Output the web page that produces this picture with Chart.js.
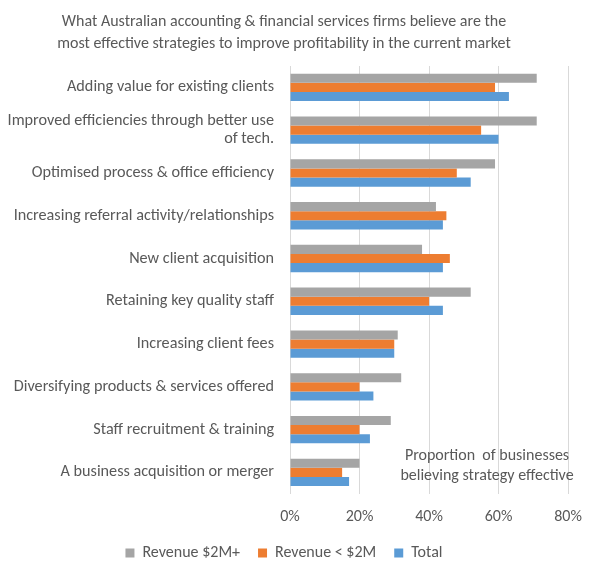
<!DOCTYPE html>
<html>
<head>
<meta charset="utf-8">
<script src="https://cdn.jsdelivr.net/npm/chart.js@4"></script>
<style>
  body { margin: 0; background: #fff; }
  #wrap { width: 597px; height: 575px; }
</style>
</head>
<body>
<div id="wrap"><canvas id="myChart"></canvas></div>
<script>
// strategies, top to bottom
var strategies = [
    'Adding value for existing clients',
    ['Improved efficiencies through better use', 'of tech.'],
    'Optimised process & office efficiency',
    'Increasing referral activity/relationships',
    'New client acquisition',
    'Retaining key quality staff',
    'Increasing client fees',
    'Diversifying products & services offered',
    'Staff recruitment & training',
    'A business acquisition or merger'
];
var revBig = [71, 71, 59, 42, 38, 52, 31, 32, 29, 20];
var revSmall = [59, 55, 48, 45, 46, 40, 30, 20, 20, 15];
var total = [63, 60, 52, 44, 44, 44, 30, 24, 23, 17];
var xTicks = [0, 20, 40, 60, 80];

var grey = '#595959';
var font = "Calibri, Carlito, Lato, 'Open Sans', sans-serif";

// note in the bottom right corner of the plot, plus a small legend nudge
const notePlugin = {
    id: 'note',
    afterLayout(chart) {
        var lg = chart.legend;
        if (lg) {
            lg.top -= 14;
            lg.bottom = chart.height;   // keep the whole legend inside its clip box
            lg.height = lg.bottom - lg.top;
        }
    },
    afterDraw(chart) {
        var ctx = chart.ctx;
        ctx.save();
        ctx.fillStyle = grey;
        ctx.font = '16px ' + font;
        ctx.textAlign = 'center';
        ctx.textBaseline = 'middle';
        var x = chart.chartArea.right - 81;
        ctx.fillText('Proportion  of businesses', x, chart.chartArea.bottom - 38);
        ctx.fillText('believing strategy effective', x, chart.chartArea.bottom - 18);
        ctx.restore();
    }
};

const data = {
    labels: strategies,
    datasets: [
        { label: 'Revenue $2M+', data: revBig, backgroundColor: '#a5a5a5' },
        { label: 'Revenue < $2M', data: revSmall, backgroundColor: '#ed7d31' },
        { label: 'Total', data: total, backgroundColor: '#5b9bd5' }
    ]
};

const config = {
    type: 'bar',
    data,
    options: {
        indexAxis: 'y',
        responsive: true,
        maintainAspectRatio: false,
        animation: false,
        datasets: { bar: { barPercentage: 1, categoryPercentage: 0.64 } },
        layout: { padding: { left: 0, right: 29, top: 6, bottom: 6 } },
        plugins: {
            title: {
                display: true,
                text: ['What Australian accounting & financial services firms believe are the',
                       'most effective strategies to improve profitability in the current market'],
                color: grey,
                font: { family: font, size: 16, weight: 'normal', lineHeight: 1.375 },
                padding: { top: 5, bottom: 11 }
            },
            legend: {
                position: 'bottom',
                maxHeight: 28,
                labels: {
                    color: grey,
                    font: { family: font, size: 16 },
                    boxWidth: 9,
                    boxHeight: 9,
                    padding: 18
                }
            },
            tooltip: { enabled: false }
        },
        scales: {
            x: {
                min: 0,
                max: 80,
                afterBuildTicks: function(axis) {
                    axis.ticks = xTicks.map(function(v) { return { value: v }; });
                },
                ticks: {
                    color: grey,
                    font: { family: font, size: 16 },
                    padding: 14,
                    callback: function(v) { return v + '%'; }
                },
                grid: { color: '#d9d9d9', drawTicks: false },
                border: { display: false }
            },
            y: {
                ticks: {
                    color: grey,
                    font: { family: font, size: 16.2, lineHeight: 1.1 },
                    padding: 8,
                    autoSkip: false
                },
                grid: { display: false },
                border: { display: false },
                afterFit: function(scale) { scale.width = 290; }
            }
        }
    },
    plugins: [notePlugin]
};

var myChart = new Chart(document.getElementById('myChart'), config);
</script>
</body>
</html>
